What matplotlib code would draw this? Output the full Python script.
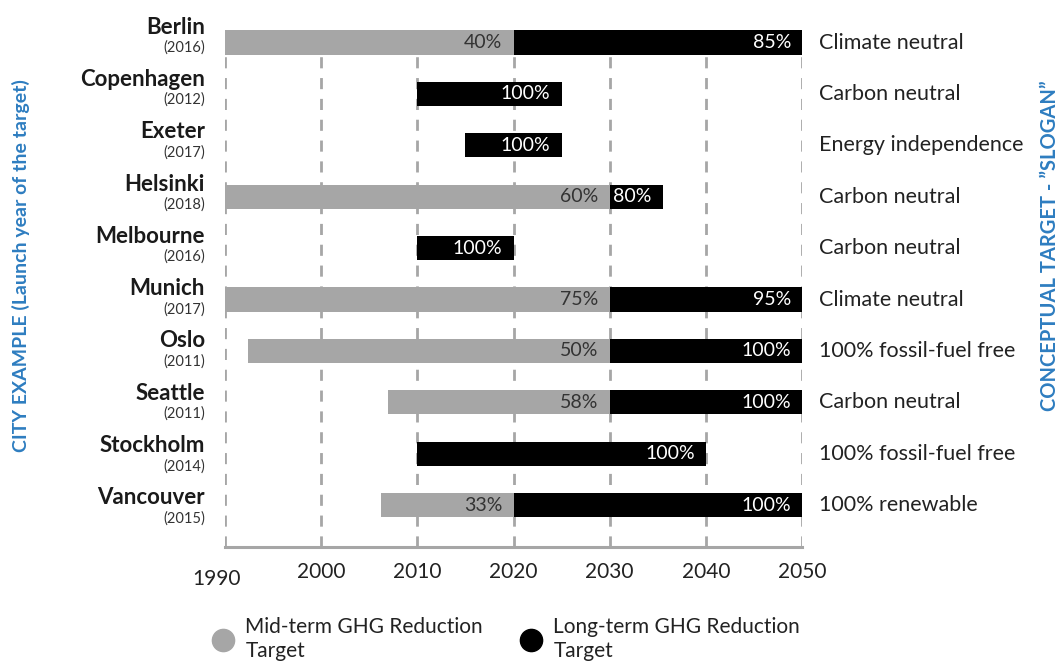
import numpy as np
import matplotlib.pyplot as plt
from matplotlib.lines import Line2D
from matplotlib import transforms

plt.rcParams['font.family'] = ['Lato', 'DejaVu Sans']

# data
cities = ['Berlin', 'Copenhagen', 'Exeter', 'Helsinki', 'Melbourne',
          'Munich', 'Oslo', 'Seattle', 'Stockholm', 'Vancouver']
launch = ['(2016)', '(2012)', '(2017)', '(2018)', '(2016)',
          '(2017)', '(2011)', '(2011)', '(2014)', '(2015)']
mid_start = [1990, np.nan, np.nan, 1990, np.nan, 1990, 1992.4, 2007, np.nan, 2006.2]
mid_end = [2020, np.nan, np.nan, 2030, np.nan, 2030, 2030, 2030, np.nan, 2020]
mid_label = ['40%', '', '', '60%', '', '75%', '50%', '58%', '', '33%']
long_start = [2020, 2010, 2015, 2030, 2010, 2030, 2030, 2030, 2010, 2020]
long_end = [2050, 2025, 2025, 2035.5, 2020, 2050, 2050, 2050, 2040, 2050]
long_label = ['85%', '100%', '100%', '80%', '100%', '95%', '100%', '100%', '100%', '100%']
slogans = ['Climate neutral', 'Carbon neutral', 'Energy independence', 'Carbon neutral',
           'Carbon neutral', 'Climate neutral', '100% fossil-fuel free', 'Carbon neutral',
           '100% fossil-fuel free', '100% renewable']
years = [1990, 2000, 2010, 2020, 2030, 2040, 2050]
legend_labels = ['Mid-term GHG Reduction\nTarget', 'Long-term GHG Reduction\nTarget']

GRAY = '#a6a6a6'
BLUE = '#2e7dc0'
TXT = '#222222'

fig = plt.figure(figsize=(10.64, 6.63), dpi=100)
# axes: 1990 at x=225px, 2050 at x=802px, rows 51.4px apart
ax = fig.add_axes([225/1064, 1-547/663, 577/1064, (547-30.2)/663])

y = np.arange(len(cities))
mid_start = np.array(mid_start); mid_end = np.array(mid_end)
has_mid = ~np.isnan(mid_start)

for yr in years:
    ax.axvline(yr, color=GRAY, lw=2, dashes=(4, 3.5), zorder=1)

ax.barh(y[has_mid], (mid_end - mid_start)[has_mid], left=mid_start[has_mid],
        height=0.47, color=GRAY, zorder=2)
ax.barh(y, np.array(long_end) - np.array(long_start), left=long_start,
        height=0.47, color='black', zorder=2)

for i in range(len(cities)):
    if mid_label[i]:
        ax.annotate(mid_label[i], (mid_end[i], y[i]), xytext=(-8, 0), textcoords='offset points',
                    ha='right', va='center', fontsize=14, color='#333333', zorder=3)
    ax.annotate(long_label[i], (long_end[i], y[i]), xytext=(-8, 0), textcoords='offset points',
                ha='right', va='center', fontsize=14, color='white', zorder=3)

trans = transforms.blended_transform_factory(ax.transAxes, ax.transData)
for i in range(len(cities)):
    ax.text(-0.035, y[i]*1.0175 - 0.30, cities[i], transform=trans, ha='right', va='center',
            fontsize=16, fontweight='bold', color='#1a1a1a', clip_on=False)
    ax.text(-0.035, y[i]*1.0175 + 0.10, launch[i], transform=trans, ha='right', va='center',
            fontsize=10.5, color='#333333', clip_on=False)
    ax.text(1.03, y[i], slogans[i], transform=trans, ha='left', va='center',
            fontsize=15.5, color=TXT, clip_on=False)

ax.set_xlim(1990, 2050)
ax.set_ylim(9.815, -0.24)
ax.set_xticks(years)
ax.set_xticklabels([str(v) for v in years], fontsize=15, color=TXT)
ax.tick_params(axis='x', length=0, pad=11)
first = ax.get_xticklabels()[0]
first.set_transform(first.get_transform() +
                    transforms.ScaledTranslation(-6/72, -5/72, fig.dpi_scale_trans))
ax.set_yticks([])
for s in ['top', 'left', 'right']:
    ax.spines[s].set_visible(False)
ax.spines['bottom'].set_color(GRAY)
ax.spines['bottom'].set_linewidth(2.2)

fig.text(21/1064, 1-266/663, 'CITY EXAMPLE (Launch year of the target)', rotation=90,
         ha='center', va='center', fontsize=14, fontweight='bold', color=BLUE)
fig.text(1050/1064, 1-246/663, 'CONCEPTUAL TARGET - \u201dSLOGAN\u201d', rotation=90,
         ha='center', va='center', fontsize=14.5, fontweight='bold', color=BLUE)

for lab, col, x0 in zip(legend_labels, [GRAY, 'black'], [213, 521]):
    h = Line2D([], [], ls='none', marker='o', markersize=16, color=col)
    fig.legend([h], [lab], loc='center left', bbox_to_anchor=(x0/1064, 1-639/663),
               frameon=False, fontsize=15, handlelength=1.0, handletextpad=0.55,
               borderpad=0, borderaxespad=0, labelcolor=TXT)

fig.savefig('out.png', dpi=100)
